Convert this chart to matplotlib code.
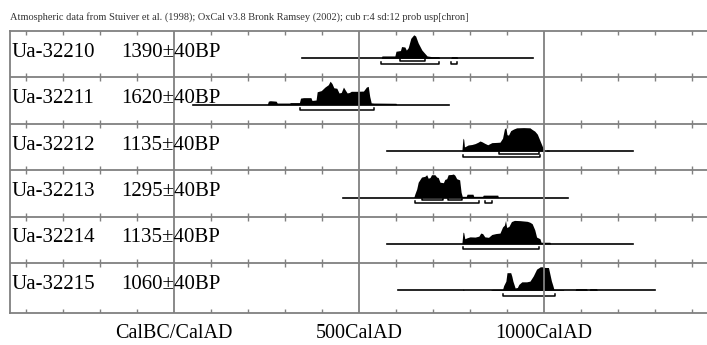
import matplotlib
matplotlib.use("Agg")
import matplotlib.pyplot as plt

# sample labels
labs = ["Ua-32210", "Ua-32211", "Ua-32212", "Ua-32213", "Ua-32214", "Ua-32215"]
bp = ["1390±40BP", "1620±40BP", "1135±40BP", "1295±40BP", "1135±40BP", "1060±40BP"]

# calibrated distributions: year AD, relative probability (% of peak)
yrs1 = [560, 562, 597, 600, 612, 615, 624, 628, 633, 640, 648, 653, 660, 670, 684, 697, 716, 718, 748, 750, 765, 767]
p1 = [0, 10, 10, 30, 33, 50, 48, 35, 45, 85, 100, 95, 65, 35, 10, 7, 7, 0, 0, 7, 7, 0]

yrs2 = [252, 255, 260, 276, 279, 312, 315, 339, 342, 350, 370, 373, 384, 387, 398, 408, 417, 422, 427, 432,
        440, 446, 452, 458, 463, 468, 474, 479, 494, 512, 520, 525, 529, 533, 540, 600, 602]
p2 = [0, 15, 17, 15, 7, 7, 9, 9, 28, 30, 30, 18, 20, 55, 60, 75, 85, 100, 90, 72,
      70, 50, 52, 75, 62, 50, 52, 57, 57, 58, 75, 78, 35, 8, 7, 6, 0]

yrs3 = [778, 781, 783, 785, 788, 795, 805, 814, 822, 827, 832, 840, 848, 859, 872, 881, 888, 893, 897, 900,
        904, 910, 918, 926, 945, 962, 968, 975, 982, 989, 995, 999, 1000, 1005, 1007, 1013, 1015]
p3 = [0, 55, 50, 18, 20, 26, 28, 32, 38, 43, 40, 33, 27, 36, 37, 38, 55, 94, 100, 70,
      68, 87, 94, 99, 100, 99, 92, 85, 72, 45, 22, 8, 0, 0, 5, 5, 0]

yrs4 = [648, 651, 656, 660, 669, 678, 683, 687, 692, 696, 705, 710, 714, 719, 728, 732, 737, 741, 750, 755,
        759, 764, 772, 776, 779, 790, 792, 808, 810, 834, 836, 875, 877]
p4 = [0, 15, 36, 65, 87, 90, 97, 82, 85, 97, 97, 87, 85, 65, 63, 77, 80, 97, 98, 100,
      95, 80, 75, 22, 5, 5, 14, 14, 5, 5, 10, 10, 0]

yrs5 = [778, 781, 783, 786, 792, 800, 814, 824, 829, 834, 840, 850, 859, 870, 881, 888, 893, 896, 899, 905,
        912, 920, 935, 955, 962, 968, 975, 980, 989, 992, 1005, 1016, 1018]
p5 = [0, 50, 48, 22, 26, 30, 29, 33, 46, 44, 30, 28, 40, 44, 46, 72, 80, 100, 70, 74,
      95, 100, 99, 96, 92, 86, 60, 29, 22, 7, 7, 7, 0]

yrs6 = [780, 782, 784, 855, 860, 888, 891, 897, 900, 910, 913, 916, 922, 928, 932, 940, 953, 962, 971, 980,
        990, 998, 1003, 1012, 1014, 1020, 1024, 1027, 1052, 1054, 1084, 1086, 1115, 1117, 1122, 1124, 1142, 1144]
p6 = [0, 6, 0, 0, 4, 4, 20, 39, 75, 75, 60, 39, 10, 12, 25, 36, 36, 39, 61, 90,
      100, 100, 97, 97, 83, 40, 20, 3, 3, 0, 0, 7, 7, 0, 0, 7, 7, 0]

dists = [(yrs1, p1), (yrs2, p2), (yrs3, p3), (yrs4, p4), (yrs5, p5), (yrs6, p6)]

# full extent line and 68.2% / 95.4% ranges
spans = [(345, 971), (52, 743), (577, 1241), (456, 1066), (577, 1241), (605, 1300)]
r68 = [[(611, 678)], [], [(879, 986)], [(669, 728), (741, 779)], [], []]
r95 = [[(560, 716), (749, 765)], [(341, 541)], [(780, 989)], [(650, 823), (841, 859)],
       [(780, 987)], [(888, 1030)]]

axis_lab = ["CalBC/CalAD", "500CalAD", "1000CalAD"]
axis_yr = [0, 500, 1000]

# pixel layout
X0, S = 174.0, 0.37      # px of year 0, px per year
TOP, BOT, ROWH = 31.0, 313.0, 46.4
PEAK = 23.5


def yr(px):
    return (px - X0) / S


serif = ["Liberation Serif", "DejaVu Serif"]
grey = "#808080"

fig = plt.figure(figsize=(7.07, 3.45), dpi=100)
ax = fig.add_axes([10 / 707, (345 - BOT) / 345, 697 / 707, (BOT - TOP) / 345])
ax.set_xlim(yr(10), yr(707))
ax.set_ylim(BOT, TOP)
ax.set_xticks([])
ax.set_yticks([])
for s in ["left", "top", "bottom"]:
    ax.spines[s].set_color(grey)
    ax.spines[s].set_linewidth(1.3)
ax.spines["right"].set_visible(False)

ticks = [t for t in range(-400, 1500, 100) if t not in (0, 500, 1000)]
for i in range(6):
    top = TOP + i * ROWH
    bot = TOP + (i + 1) * ROWH if i < 5 else BOT
    if i > 0:
        ax.axhline(top, color=grey, lw=1.3, zorder=3)
    ax.vlines(ticks, top, top + 4, color=grey, lw=1.0, zorder=3)
    ax.vlines(ticks, bot - 4, bot, color=grey, lw=1.0, zorder=3)

    base = top + 27.3
    xs, ps = dists[i]
    ax.fill_between(xs, base, [base - p / 100 * PEAK for p in ps], color="black", lw=0, zorder=2)
    ax.plot(spans[i], [base, base], color="black", lw=1.2, zorder=2)
    for a, b in r68[i]:
        yb = base + 2.5
        ax.plot([a, a, b, b], [yb - 1.5, yb, yb, yb - 1.5], color="black", lw=1.1, zorder=2)
    for a, b in r95[i]:
        yb = base + 5.5
        ax.plot([a, a, b, b], [yb - 2, yb, yb, yb - 2], color="black", lw=1.1, zorder=2)

    ax.text(yr(12), top + 25.7, labs[i], fontsize=15, family=serif, va="baseline", ha="left", zorder=4)
    ax.text(yr(121), top + 25.7, bp[i], fontsize=15, family=serif, va="baseline", ha="left", zorder=4)

for v in axis_yr:
    ax.axvline(v, color=grey, lw=1.3, zorder=3)

for t, v in zip(axis_lab, axis_yr):
    ax.text(v, 333, t, fontsize=14.5, family=serif, ha="center", va="center", clip_on=False)

fig.text(10 / 707, 1 - 20 / 345,
         "Atmospheric data from Stuiver et al. (1998); OxCal v3.8 Bronk Ramsey (2002); cub r:4 sd:12 prob usp[chron]",
         fontsize=7.5, family=serif, ha="left", va="baseline", color="#333333")

fig.savefig("out.png", dpi=100)
